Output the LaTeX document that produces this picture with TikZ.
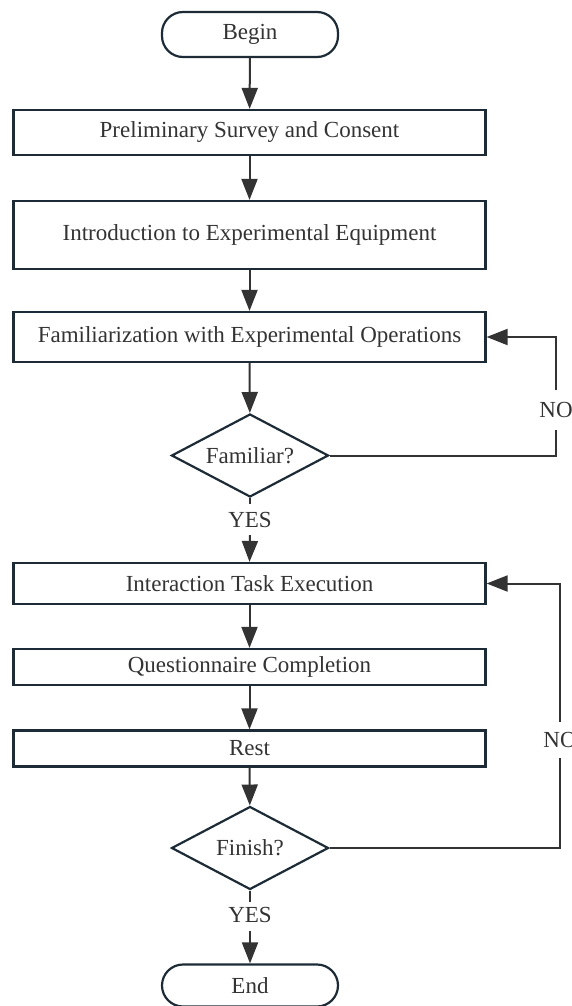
\documentclass[tikz,border=0pt]{standalone}
\usepackage{fontspec}
\setmainfont{Liberation Serif}
\usetikzlibrary{shapes.geometric,arrows.meta}
\definecolor{edgec}{HTML}{1C2B36}
\definecolor{linec}{HTML}{333333}
\definecolor{txtc}{HTML}{333333}
\tikzset{
  base/.style={draw=edgec, line width=2.2pt, text=txtc, font=\fontsize{23}{26}\selectfont, inner sep=0pt},
  stepbox/.style={base, rectangle, minimum width=472pt},
  termbox/.style={base, rectangle, rounded corners=21pt, minimum width=176pt},
  decbox/.style={base, diamond, minimum width=157pt, minimum height=83pt, aspect=1.9},
  lbl/.style={text=txtc, font=\fontsize{23}{26}\selectfont, text height=15pt, text depth=0pt},
  arr/.style={draw=linec, line width=2pt, -{Triangle[width=16pt,length=21pt]}},
  ln/.style={draw=linec, line width=2pt},
}
\begin{document}
\begin{tikzpicture}[x=1pt,y=-1pt]
\useasboundingbox (0,0) rectangle (572,1006);
\node[termbox, minimum height=45pt] (begin) at (250,34.5) {Begin};
\node[stepbox, minimum height=45pt] (b1) at (249.5,132.5) {Preliminary Survey and Consent};
\node[stepbox, minimum height=68pt] (b2) at (249.5,235) {Introduction to Experimental Equipment};
\node[stepbox, minimum height=50pt] (b3) at (249.5,337) {Familiarization with Experimental Operations};
\node[decbox] (d1) at (250,455.5) {Familiar?};
\node[lbl, inner sep=7.5pt] (yes1) at (250,520) {YES};
\node[stepbox, minimum height=41pt] (b4) at (249.5,583.5) {Interaction Task Execution};
\node[stepbox, minimum height=36pt] (b5) at (249.5,667) {Questionnaire Completion};
\node[stepbox, minimum height=36pt] (b6) at (249.5,748.5) {Rest};
\node[decbox] (d2) at (250,848) {Finish?};
\node[lbl, inner sep=8.5pt] (yes2) at (250,915) {YES};
\node[termbox, minimum height=42pt] (end) at (250,985.5) {End};
\node[lbl, inner xsep=0pt, inner ysep=12pt] (no1) at (556,410) {NO};
\node[lbl, inner xsep=0pt, inner ysep=10.5pt] (no2) at (560,740) {NO};
\coordinate (c1) at (556,455.5);
\coordinate (c2) at (560,848);
\draw[arr] (begin) -- (b1);
\draw[arr] (b1) -- (b2);
\draw[arr] (b2) -- (b3);
\draw[arr] (b3) -- (d1);
\draw[ln] (d1.south) -- ++(0,6);
\draw[arr] (yes1.south) -- (b4.north);
\draw[arr] (b4) -- (b5);
\draw[arr] (b5) -- (b6);
\draw[arr] (b6) -- (d2);
\draw[ln] (d2.south) -- ++(0,11);
\draw[arr] (yes2.south) -- (end.north);
\draw[ln] (d1.east) -- (c1) -- (no1.south);
\draw[arr] (no1.north) |- (b3.east);
\draw[ln] (d2.east) -- (c2) -- (no2.south);
\draw[arr] (no2.north) |- (b4.east);
\end{tikzpicture}
\end{document}
